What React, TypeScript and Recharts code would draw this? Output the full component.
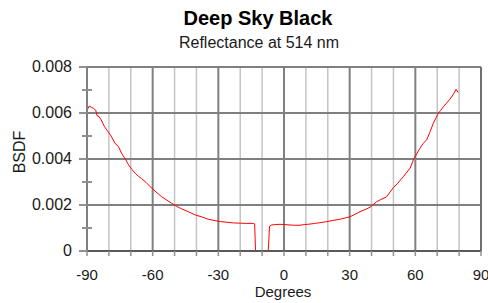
import React from 'react';
import { LineChart, Line, XAxis, YAxis, ReferenceLine } from 'recharts';

const degrees = [
  -90, -89, -88, -87, -86, -85.4, -84.5, -83.5, -82, -80.6, -79, -77.2, -75.7, -74.2, -72.5, -71,
  -69.5, -68, -66.5, -65, -63, -60.4, -58, -55.9, -53.5, -51.3, -49, -46.7, -43.5, -40.6, -37.5,
  -34.6, -31.5, -29, -26, -23, -20, -17, -14, -13.4, -13, -7.2, -6.6, -5.6, -4, -1.8, 0, 2.7, 5,
  7.3, 9.5, 11.9, 14, 16.4, 19, 22, 25.6, 28, 30.2, 32.5, 34.7, 37, 39.3, 42.3, 43.9, 46.9, 49.9,
  52, 54.5, 57.6, 59.1, 60.6, 62, 63.6, 65.2, 66.8, 68.2, 70.5, 71.5, 72.8, 74, 75.8, 77.3, 78.6, 79.6,
];

const bsdf = [
  0.00612, 0.0063, 0.00625, 0.0062, 0.00612, 0.00588, 0.00585, 0.0057, 0.0054, 0.00522, 0.005,
  0.00468, 0.00455, 0.00425, 0.004, 0.00374, 0.00355, 0.00338, 0.00325, 0.00314, 0.00298, 0.00273,
  0.00253, 0.00236, 0.00221, 0.00207, 0.00194, 0.00183, 0.0017, 0.00157, 0.00148, 0.00138, 0.00132,
  0.00128, 0.00125, 0.00122, 0.00121, 0.0012, 0.0012, 0.00118, 0, 0, 0.00108, 0.00113, 0.00115,
  0.00116, 0.00115, 0.00113, 0.00112, 0.00112, 0.00115, 0.00117, 0.0012, 0.00123, 0.00127, 0.00132,
  0.00138, 0.00144, 0.00149, 0.0016, 0.00171, 0.0018, 0.0019, 0.00214, 0.00222, 0.00236, 0.00275,
  0.00295, 0.00323, 0.0036, 0.00396, 0.00422, 0.00445, 0.00468, 0.00483, 0.0052, 0.00555, 0.00599,
  0.0061, 0.00627, 0.0064, 0.0066, 0.0068, 0.00703, 0.00689,
];

const xTicks = [-90, -80, -70, -60, -50, -40, -30, -20, -10, 0, 10, 20, 30, 40, 50, 60, 70, 80, 90];
const xMajor = [-60, -30, 0, 30, 60];
const xMinor = [-80, -70, -50, -40, -20, -10, 10, 20, 40, 50, 70, 80];
const yTicks = [0, 0.001, 0.002, 0.003, 0.004, 0.005, 0.006, 0.007, 0.008];
const yMajorLabels: Record<string, string> = {
  '0': '0', '0.002': '0.002', '0.004': '0.004', '0.006': '0.006', '0.008': '0.008',
};
const yGrid = [0.002, 0.004, 0.006];

const data = degrees.map((d, i) => ({ deg: d, bsdf: bsdf[i] }));

const FONT = '"Liberation Sans", Arial, sans-serif';
const TEXT = '#1a1a1a';

const YTick = (props: any) => {
  const { x, y, payload } = props;
  const key = String(Number(payload.value.toFixed(3)));
  const label = yMajorLabels[key];
  if (label !== undefined) {
    return (
      <g>
        <line x1={x - 8} x2={x} y1={y} y2={y} stroke="#909090" strokeWidth={2} />
        <text x={x - 15} y={y + 5} textAnchor="end" fontSize={16} fontFamily={FONT} fill={TEXT}>
          {label}
        </text>
      </g>
    );
  }
  return <line x1={x - 5} x2={x + 5} y1={y} y2={y} stroke="#909090" strokeWidth={2} />;
};

const XTick = (props: any) => {
  const { x, y, payload } = props;
  const v = payload.value;
  const major = v % 30 === 0;
  return (
    <g>
      <line x1={x} x2={x} y1={y} y2={y + 5} stroke="#909090" strokeWidth={1.5} />
      {major && (
        <text x={x} y={y + 29} textAnchor="middle" fontSize={15} fontFamily={FONT} fill={TEXT}>
          {String(v)}
        </text>
      )}
    </g>
  );
};

export default function App() {
  return (
    <div style={{ position: 'absolute', left: 0, top: 0, width: 488, height: 303, background: '#fff' }}>
      <LineChart
        width={488}
        height={303}
        data={data}
        margin={{ top: 67, right: 7, bottom: 22, left: 0 }}
      >
        <XAxis
          type="number"
          dataKey="deg"
          domain={[-90, 90]}
          ticks={xTicks}
          interval={0}
          height={30}
          tickSize={0}
          tickMargin={0}
          tickLine={false}
          tick={<XTick />}
          axisLine={{ stroke: '#5a5a5a', strokeWidth: 2 }}
          allowDataOverflow
        />
        <YAxis
          type="number"
          domain={[0, 0.008]}
          ticks={yTicks}
          interval={0}
          width={87}
          tickSize={0}
          tickMargin={0}
          tickLine={false}
          tick={<YTick />}
          axisLine={{ stroke: '#808080', strokeWidth: 2 }}
          allowDataOverflow
        />
        {xMinor.map((v) => (
          <ReferenceLine key={`mn${v}`} x={v} stroke="#c4c4c4" strokeWidth={1.5} />
        ))}
        {xMajor.map((v) => (
          <ReferenceLine key={`mj${v}`} x={v} stroke="#808080" strokeWidth={2} />
        ))}
        {yGrid.map((v) => (
          <ReferenceLine key={`hy${v}`} y={v} stroke="#808080" strokeWidth={2} />
        ))}
        <ReferenceLine y={0.008} stroke="#808080" strokeWidth={2} />
        <ReferenceLine x={90} stroke="#707070" strokeWidth={2} />
        <Line
          type="linear"
          dataKey="bsdf"
          stroke="#ff0000"
          strokeWidth={1}
          dot={false}
          isAnimationActive={false}
        />
      </LineChart>
      <svg
        width={488}
        height={303}
        style={{ position: 'absolute', left: 0, top: 0, pointerEvents: 'none' }}
      >
        <text x={258} y={25} textAnchor="middle" fontSize={20} fontWeight="bold" fontFamily={FONT} fill="#000">
          Deep Sky Black
        </text>
        <text x={259} y={48} textAnchor="middle" fontSize={16} fontFamily={FONT} fill={TEXT}>
          Reflectance at 514 nm
        </text>
        <text x={283} y={297} textAnchor="middle" fontSize={15} fontFamily={FONT} fill={TEXT}>
          Degrees
        </text>
        <text
          x={25}
          y={152}
          textAnchor="middle"
          fontSize={16}
          fontFamily={FONT}
          fill={TEXT}
          transform="rotate(-90 25 152)"
        >
          BSDF
        </text>
      </svg>
    </div>
  );
}
